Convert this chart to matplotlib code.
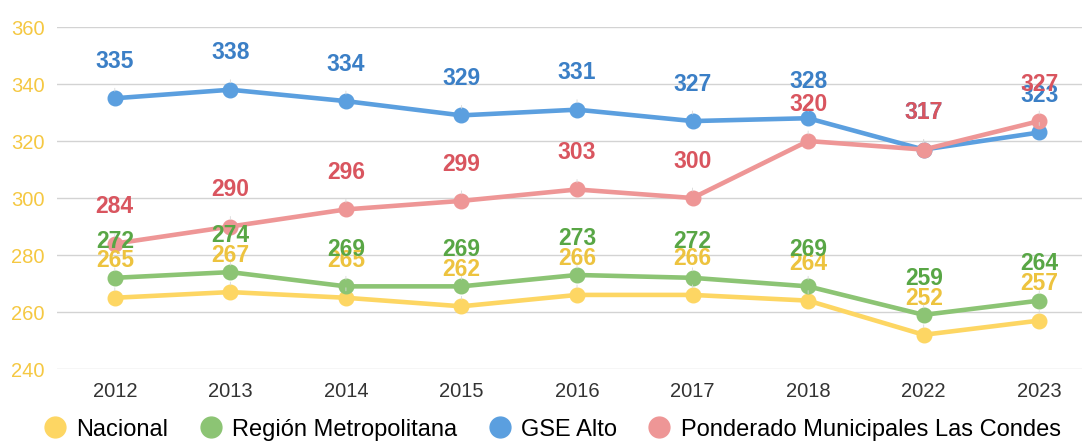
import matplotlib.pyplot as plt
from matplotlib.lines import Line2D

years = ["2012", "2013", "2014", "2015", "2016", "2017", "2018", "2022", "2023"]
nacional = [265, 267, 265, 262, 266, 266, 264, 252, 257]
region_metro = [272, 274, 269, 269, 273, 272, 269, 259, 264]
gse_alto = [335, 338, 334, 329, 331, 327, 328, 317, 323]
las_condes = [284, 290, 296, 299, 303, 300, 320, 317, 327]

series = [
    ("Nacional", nacional, "#FDD663", "#EDC33F"),
    ("Región Metropolitana", region_metro, "#8CC474", "#58A645"),
    ("GSE Alto", gse_alto, "#5B9FDF", "#3B7FC6"),
    ("Ponderado Municipales Las Condes", las_condes, "#EE9696", "#D9555F"),
]

plt.rcParams['font.family'] = ['Liberation Sans', 'DejaVu Sans']

fig = plt.figure(figsize=(10.82, 4.43), dpi=100)
ax = fig.add_axes([0.0527, 0.167, 0.9473, 0.772])

x = list(range(len(years)))
for name, vals, col, lab_col in series:
    ax.plot(x, vals, color=col, lw=3.3, marker="o", markersize=10.5, zorder=3)

# labels on top of everything
for name, vals, col, lab_col in series:
    for xi, v in zip(x, vals):
        ax.annotate(str(v), (xi, v), xytext=(0, 26.5), textcoords="offset points",
                    ha="center", va="center", fontsize=16.5, fontweight="bold",
                    color=lab_col, zorder=5,
                    arrowprops=dict(arrowstyle="-", color="#d8d8d8", lw=0.6,
                                    shrinkA=9, shrinkB=5))

ax.set_ylim(240, 360)
ax.set_yticks([240, 260, 280, 300, 320, 340, 360])
ax.set_xlim(-0.5, 8.37)
ax.set_xticks(x)
ax.set_xticklabels(years)
ax.tick_params(axis="y", length=0, pad=9, labelsize=14.5, labelcolor="#F5C842")
ax.tick_params(axis="x", length=0, pad=9, labelsize=14.5, labelcolor="#333333")
ax.grid(axis="y", color="#d3d3d3", lw=1)
ax.set_axisbelow(True)
for s in ax.spines.values():
    s.set_visible(False)

handles = [Line2D([], [], ls="", marker="o", markersize=15, color=c)
           for _, _, c, _ in series]
fig.legend(handles, [s[0] for s in series], loc="center", bbox_to_anchor=(0.51, 0.03),
           ncol=4, frameon=False, fontsize=17, handletextpad=0.4, columnspacing=1.3,
           handlelength=1.0)

fig.savefig("out.png", dpi=100)
